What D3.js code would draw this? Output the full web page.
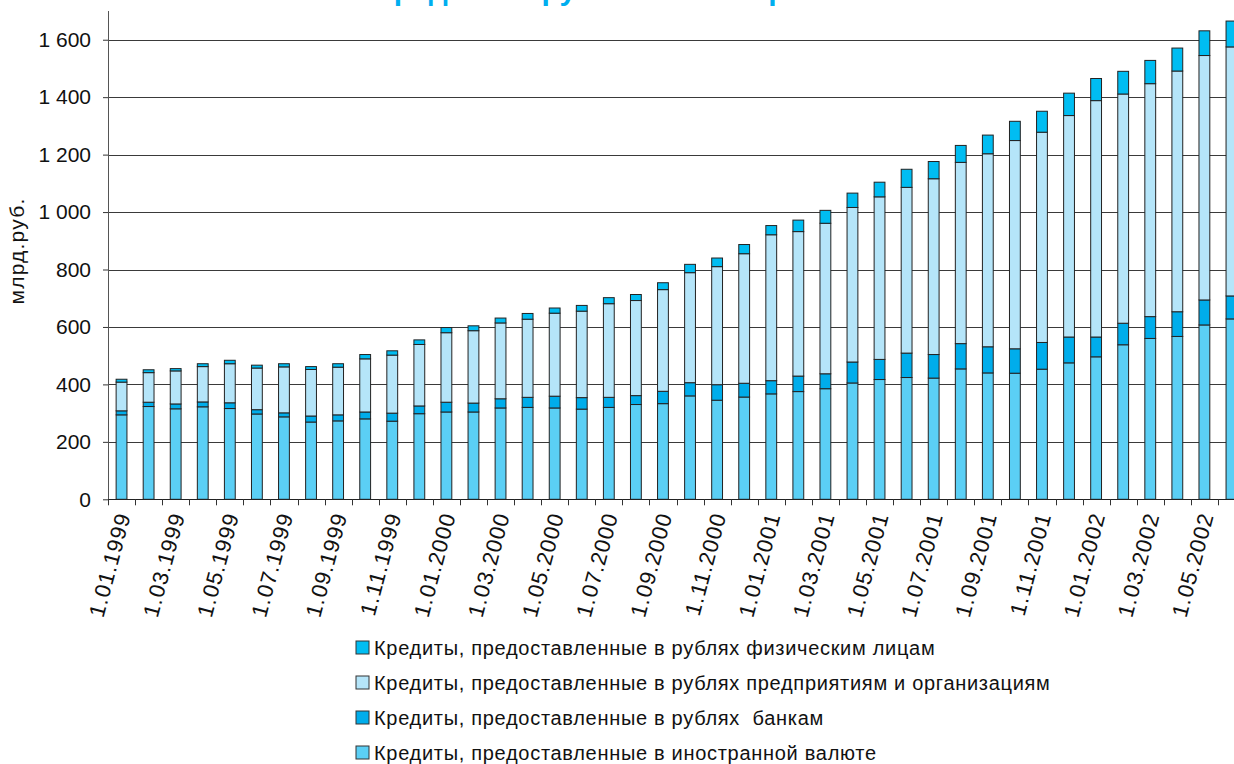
<!DOCTYPE html>
<html>
<head>
<meta charset="utf-8">
<script src="https://cdn.jsdelivr.net/npm/d3@7"></script>
<style>
  body { margin: 0; overflow: hidden; background: #fff; }
  svg { display: block; font-family: "Liberation Sans", Arial, sans-serif; }
  .legend text { white-space: pre; }
</style>
</head>
<body>
<svg id="chart" width="1234" height="764"></svg>
<script>
let dates = []
for (let yr of [1999, 2000, 2001, 2002]) {
    for (let m = 1; m <= 12; m++) {
        if (yr === 2002 && m > 6) break
        dates.push("1." + String(m).padStart(2, "0") + "." + yr)
    }
}

// млрд.руб., снизу вверх
let foreign = [294, 323, 315, 322, 316, 297, 287, 269, 273, 280, 272, 298,
    304, 304, 318, 320, 318, 314, 320, 330, 333, 360, 345, 356,
    367, 375, 385, 405, 417, 424, 422, 454, 440, 439, 453, 475,
    496, 538, 560, 567, 607, 628]
let banks = [14, 15, 17, 17, 20, 15, 14, 21, 21, 24, 28, 27,
    34, 31, 32, 35, 41, 40, 35, 31, 43, 46, 54, 48,
    46, 54, 52, 73, 70, 85, 82, 88, 91, 85, 93, 90,
    69, 75, 76, 86, 87, 80]
let enterprises = [100, 103, 115, 123, 136, 145, 160, 162, 166, 185, 202, 214,
    242, 252, 264, 272, 289, 301, 326, 331, 354, 383, 411, 451,
    508, 503, 524, 538, 566, 577, 612, 631, 672, 725, 732, 771,
    823, 798, 811, 838, 851, 867]
let individuals = [10, 10, 8, 10, 12, 10, 11, 10, 12, 15, 15, 16,
    18, 17, 17, 20, 18, 20, 21, 21, 24, 29, 30, 32,
    32, 40, 45, 50, 51, 63, 60, 59, 65, 67, 73, 78,
    77, 79, 81, 80, 86, 90]

let keys = ["foreign", "banks", "enterprises", "individuals"]
let colors = {
    individuals: "#00bdf2",
    enterprises: "#b5e5f9",
    banks: "#00adeb",
    foreign: "#5bcff5"
}
let legendItems = [
    ["individuals", "Кредиты, предоставленные в рублях физическим лицам"],
    ["enterprises", "Кредиты, предоставленные в рублях предприятиям и организациям"],
    ["banks", "Кредиты, предоставленные в рублях  банкам"],
    ["foreign", "Кредиты, предоставленные в иностранной валюте"]
]
let yTicks = d3.range(0, 1601, 200)

let rows = dates.map((d, i) => ({
    date: d,
    foreign: foreign[i],
    banks: banks[i],
    enterprises: enterprises[i],
    individuals: individuals[i]
}))
let series = d3.stack().keys(keys)(rows)

let svg = d3.select("#chart")
let padL = 108, padR = 1245, padT = 11, padB = 499.3

let x = d3.scaleBand().domain(dates).range([padL, padR])
let y = d3.scaleLinear().domain([0, 1700]).range([padB, padT])
let fmt = d3.formatLocale({ decimal: ",", thousands: " ", grouping: [3], currency: ["", ""] }).format(",d")

// title, almost cut off by the top edge
svg.append("text")
    .attr("x", 685)
    .attr("y", 0)
    .attr("text-anchor", "middle")
    .attr("font-size", 30)
    .attr("font-weight", "bold")
    .attr("fill", "#00aeef")
    .text("Кредиты в рублях и иностранной валюте")

// grid
svg.append("g")
    .selectAll("line")
    .data(yTicks.filter(d => d > 0))
    .join("line")
    .attr("x1", padL)
    .attr("x2", padR)
    .attr("y1", d => Math.round(y(d)) + 0.5)
    .attr("y2", d => Math.round(y(d)) + 0.5)
    .attr("stroke", "#3a3a3a")

// bars
let bw = x.bandwidth()
svg.append("g")
    .selectAll("g")
    .data(series)
    .join("g")
    .attr("fill", s => colors[s.key])
    .selectAll("rect")
    .data(s => s)
    .join("rect")
    .attr("x", d => x(d.data.date) + bw * 0.3)
    .attr("width", bw * 0.4)
    .attr("y", d => y(d[1]))
    .attr("height", d => y(d[0]) - y(d[1]))
    .attr("stroke", "#222")
    .attr("stroke-width", 1)

// y axis
let axisL = d3.axisLeft(y)
    .tickValues(yTicks)
    .tickFormat(fmt)
    .tickSizeInner(5)
    .tickSizeOuter(0)
    .tickPadding(12)

svg.append("g")
    .attr("transform", "translate(" + padL + ",0)")
    .call(axisL)
    .call(g => g.select(".domain").attr("stroke", "#555").attr("d", "M0.5," + padT + "V" + padB))
    .call(g => g.selectAll(".tick line").attr("stroke", "#333"))
    .call(g => g.selectAll("text").attr("font-size", 21).attr("fill", "#111").attr("font-family", "Liberation Sans, Arial, sans-serif"))

// x axis line and boundary ticks
let xg = svg.append("g")
xg.append("line")
    .attr("x1", padL)
    .attr("x2", padR)
    .attr("y1", Math.round(padB) + 0.5)
    .attr("y2", Math.round(padB) + 0.5)
    .attr("stroke", "#222")
xg.selectAll("line.tk")
    .data(dates.concat(["end"]))
    .join("line")
    .attr("class", "tk")
    .attr("x1", d => d === "end" ? padR : Math.round(x(d)) + 0.5)
    .attr("x2", d => d === "end" ? padR : Math.round(x(d)) + 0.5)
    .attr("y1", padB)
    .attr("y2", padB + 6)
    .attr("stroke", "#333")

// x labels
xg.selectAll("text")
    .data(dates.filter((d, i) => i % 2 === 0))
    .join("text")
    .attr("transform", d => "translate(" + (x(d) + bw / 2 + 2) + "," + (padB + 14) + ") rotate(-75)")
    .attr("text-anchor", "end")
    .attr("dy", "0.35em")
    .attr("font-size", 22)
    .attr("letter-spacing", 1)
    .attr("fill", "#111")
    .text(d => d)

// y title
svg.append("text")
    .attr("transform", "translate(24,251) rotate(-90)")
    .attr("text-anchor", "middle")
    .attr("font-size", 21)
    .attr("letter-spacing", 1.2)
    .attr("fill", "#111")
    .text("млрд.руб.")

// legend
let lg = svg.append("g")
    .attr("class", "legend")
    .selectAll("g")
    .data(legendItems)
    .join("g")
    .attr("transform", (d, i) => "translate(356," + (641 + i * 35) + ")")
lg.append("rect")
    .attr("width", 13)
    .attr("height", 13)
    .attr("fill", d => colors[d[0]])
    .attr("stroke", "#333")
lg.append("text")
    .attr("x", 18)
    .attr("y", 7)
    .attr("dy", "0.35em")
    .attr("font-size", 20)
    .attr("letter-spacing", 0.7)
    .attr("fill", "#111")
    .text(d => d[1])
</script>
</body>
</html>
